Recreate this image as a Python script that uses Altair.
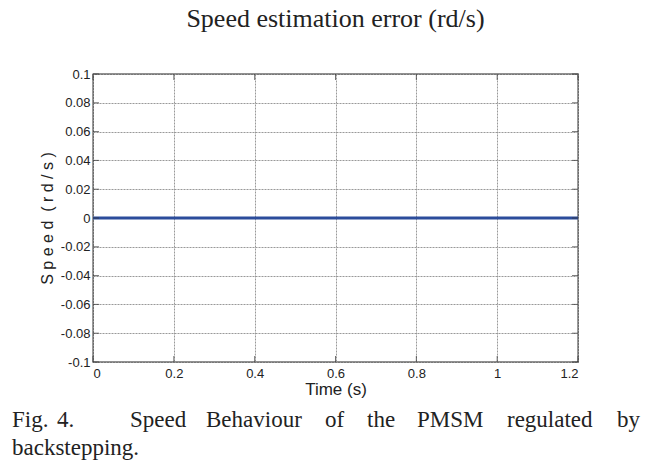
import altair as alt
import pandas as pd

# ---- data ----
time_s = [0.0, 0.2, 0.4, 0.6, 0.8, 1.0, 1.2]
speed_err = [0.0, 0.0, 0.0, 0.0, 0.0, 0.0, 0.0]
x_ticks = [0.0, 0.2, 0.4, 0.6, 0.8, 1.0, 1.2]
y_ticks = [-0.1, -0.08, -0.06, -0.04, -0.02, 0.0, 0.02, 0.04, 0.06, 0.08, 0.1]
title_text = "Speed estimation error (rd/s)"
y_title = "S\u00a0p\u00a0e\u00a0e\u00a0d\u00a0\u00a0(\u00a0r\u00a0d\u00a0/\u00a0s\u00a0)"
x_title = "Time (s)"
caption_words = ["Fig.", "4.", "Speed", "Behaviour", "of", "the", "PMSM", "regulated", "by"]
caption_line2 = "backstepping."

W, H = 485, 288
PL, PT = 93, 74

df = pd.DataFrame({"t": time_s, "e": speed_err})
xdf = pd.DataFrame({"t": x_ticks})
ydf = pd.DataFrame({"e": y_ticks})
one = pd.DataFrame({"k": [0]})

xscale = alt.Scale(domain=[0, 1.2], nice=False, zero=False)
yscale = alt.Scale(domain=[-0.1, 0.1], nice=False, zero=False)

xaxis = alt.Axis(values=x_ticks, title=x_title, grid=True, domain=False,
                 ticks=False, labelPadding=5, labelOverlap=False,
                 labelExpr="format(datum.value, '~g')",
                 titleX=W / 2, titleY=27, titleBaseline="middle",
                 titleAnchor="middle", titleFontSize=17)
yaxis = alt.Axis(values=y_ticks, title=y_title, grid=True,
                 domain=False, ticks=False, labelPadding=3, labelOverlap=False,
                 labelExpr="replace(format(datum.value, '.2~f'), '\u2212', '-')",
                 titleX=-46, titleY=H / 2, titleAngle=-90, titleBaseline="middle",
                 titleAnchor="middle", titleFontSize=16)

line = alt.Chart(df).mark_line(color="#2B4C9B", strokeWidth=3).encode(
    x=alt.X("t:Q", scale=xscale, axis=xaxis),
    y=alt.Y("e:Q", scale=yscale, axis=yaxis),
)

tick_color = "#333333"
yt_left = alt.Chart(ydf).mark_tick(orient="horizontal", size=6, thickness=1, color=tick_color).encode(
    y=alt.Y("e:Q", scale=yscale, axis=yaxis), x=alt.value(3))
yt_right = alt.Chart(ydf).mark_tick(orient="horizontal", size=6, thickness=1, color=tick_color).encode(
    y=alt.Y("e:Q", scale=yscale, axis=yaxis), x=alt.value(W - 3))
xt_bot = alt.Chart(xdf).mark_tick(orient="vertical", size=6, thickness=1, color=tick_color).encode(
    x=alt.X("t:Q", scale=xscale, axis=xaxis), y=alt.value(H - 3))
xt_top = alt.Chart(xdf).mark_tick(orient="vertical", size=6, thickness=1, color=tick_color).encode(
    x=alt.X("t:Q", scale=xscale, axis=xaxis), y=alt.value(3))

serif = "Liberation Serif"
layers = [line, yt_left, yt_right, xt_bot, xt_top]

title = alt.Chart(one).mark_text(font=serif, fontSize=26, color="#222222",
                                 align="center", baseline="alphabetic").encode(
    x=alt.value(W / 2), y=alt.value(27 - PT), text=alt.value(title_text))
layers.append(title)

word_left = [12, 57, 130, 206, 325, 367, 417, 507, 617]
for w, xl in zip(caption_words, word_left):
    layers.append(alt.Chart(one).mark_text(font=serif, fontSize=23, color="#222222",
                                           align="left", baseline="alphabetic").encode(
        x=alt.value(xl - PL), y=alt.value(427 - PT), text=alt.value(w)))
layers.append(alt.Chart(one).mark_text(font=serif, fontSize=23, color="#222222",
                                       align="left", baseline="alphabetic").encode(
    x=alt.value(12 - PL), y=alt.value(455 - PT), text=alt.value(caption_line2)))

chart = alt.layer(*layers).properties(
    width=W, height=H,
    autosize=alt.AutoSizeParams(type="none"),
    padding={"left": PL, "top": PT, "right": 652 - PL - W, "bottom": 461 - PT - H},
    background="white",
).configure_view(
    stroke="#222222", strokeWidth=1.3
).configure_axis(
    labelFont="Liberation Sans", labelFontSize=13, labelColor="#222222",
    titleFont="Liberation Sans", titleColor="#222222",
    titleFontWeight="normal",
    gridColor="#999999", gridWidth=1, gridDash=[2, 1],
)

chart.save("out.html", embed_options={"renderer": "svg", "actions": False})
